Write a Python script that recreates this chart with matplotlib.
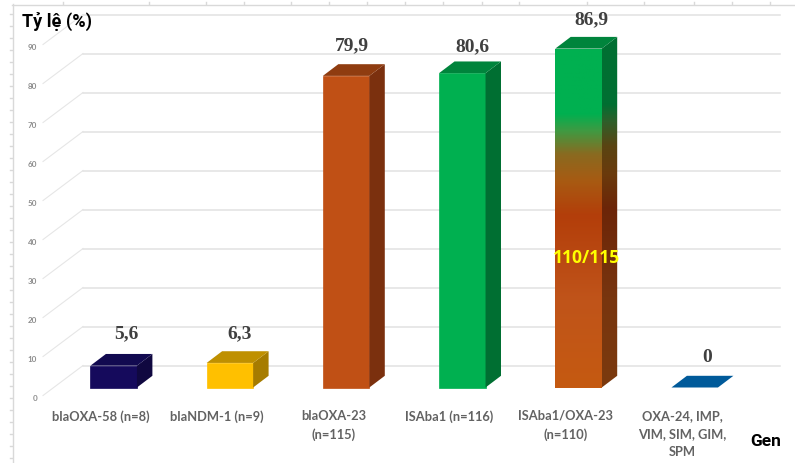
import numpy as np
import matplotlib.pyplot as plt
from matplotlib.colors import LinearSegmentedColormap, to_rgb
from matplotlib.patches import Polygon

# carriage rate of each resistance gene
genes = ["blaOXA-58 (n=8)", "blaNDM-1 (n=9)", "blaOXA-23\n(n=115)", "ISAba1 (n=116)",
         "ISAba1/OXA-23\n(n=110)", "OXA-24, IMP,\nVIM, SIM, GIM,\nSPM"]
rates = [5.6, 6.3, 79.9, 80.6, 86.9, 0]
rate_labels = ["5,6", "6,3", "79,9", "80,6", "86,9", "0"]
y_levels = [0, 10, 20, 30, 40, 50, 60, 70, 80, 90]

# front, top, side
bar_colors = [("#150A5C", "#120A50", "#100840"),
              ("#FFC000", "#BF9000", "#A67C00"),
              ("#C05015", "#8F3C10", "#7B300E"),
              ("#00B050", "#00843C", "#006F32"),
              None,
              ("#005A9A", "#005A9A", "#005A9A")]
# the ISAba1/OXA-23 bar fades from orange up to green
blend_front = [(0, "#C55A11"), (0.26, "#C0541A"), (0.51, "#B33E0A"), (0.61, "#A85A12"),
               (0.69, "#8A6A20"), (0.76, "#3F9A42"), (0.81, "#00B050"), (1, "#00B050")]
blend_side = [(0, "#7B3A0E"), (0.26, "#78350F"), (0.51, "#6C2508"), (0.61, "#6A3A0C"),
              (0.69, "#5A4412"), (0.76, "#2F5F2A"), (0.81, "#006F32"), (1, "#006F32")]

bar_w = 0.4
depth_x = 0.133
depth_y = 3.0
label_nudge = [(13, 33), (10, 30), (6, 31), (10, 27), (13, 30), (12, 31)]

x_limits = (-113.7 / 116.2, (795 - 113.7) / 116.2)
y_limits = ((388.5 - 464) / 3.9, 388.5 / 3.9)

fig = plt.figure(figsize=(7.95, 4.64), dpi=100)
ax = fig.add_axes([0, 0, 1, 1])
ax.set_xlim(x_limits)
ax.set_ylim(y_limits)
ax.axis("off")

# walls of the 3d box
wall_left, wall_back, wall_right = -0.608, -0.264, 5.735
floor_front, floor_back = -2.05, 5.64
for lv in y_levels:
    ax.plot([wall_back, wall_right], [lv + floor_back] * 2, color="#e2e2e2", lw=1.1, zorder=1)
    ax.plot([wall_left, wall_back], [lv + floor_front, lv + floor_back], color="#e6e6e6", lw=0.8, zorder=1)
    ax.text(wall_left - 0.05, lv + floor_front - 0.6, str(lv), ha="right", va="center",
            fontsize=5.8, color="#8c8c8c", fontweight="bold", family="Lato", zorder=3)


def gradient(stops, name):
    return LinearSegmentedColormap.from_list(name, [(p, to_rgb(c)) for p, c in stops])


ramp = np.linspace(1, 0, 256).reshape(-1, 1)
for i, (val, cols) in enumerate(zip(rates, bar_colors)):
    x0, x1 = i - bar_w / 2, i + bar_w / 2
    side = [(x1, 0), (x1 + depth_x, depth_y), (x1 + depth_x, val + depth_y), (x1, val)]
    top = [(x0, val), (x0 + depth_x, val + depth_y), (x1 + depth_x, val + depth_y), (x1, val)]
    if cols is None:
        ax.imshow(ramp, cmap=gradient(blend_front, "front"), aspect="auto", zorder=4,
                  extent=(x0, x1, 0, val))
        im = ax.imshow(ramp, cmap=gradient(blend_side, "side"), aspect="auto", zorder=4,
                       extent=(x1, x1 + depth_x, 0, val + depth_y))
        clip = Polygon(side, transform=ax.transData)
        im.set_clip_path(clip)
        ax.add_patch(Polygon(top, fc="#00843C", ec="none", zorder=4))
        continue
    if val > 0:
        ax.bar(i, val, width=bar_w, color=cols[0], edgecolor=cols[0], lw=0.5, zorder=4)
        ax.add_patch(Polygon(side, fc=cols[2], ec="none", zorder=4))
    ax.add_patch(Polygon(top, fc=cols[1], ec="none", zorder=4))

ax.set_xlim(x_limits)
ax.set_ylim(y_limits)

for i, (val, txt, nudge) in enumerate(zip(rates, rate_labels, label_nudge)):
    ax.annotate(txt, (i, val), xytext=(nudge[0] * 0.72, nudge[1] * 0.72), textcoords="offset points",
                ha="center", va="center", fontsize=14, fontweight="bold",
                family="Liberation Serif", color="#404040", zorder=6)

for i, g in enumerate(genes):
    ax.text(i - 0.11, -5.5, g, ha="center", va="top", fontsize=9.3, fontweight="bold",
            family="Lato", color="#626262", linespacing=1.6, zorder=6)

ax.text(4 + 0.07, 33.4, "110/115", ha="center", va="center", fontsize=12.6, fontweight="bold",
        family="Open Sans", color="#FFFF00", zorder=6)

ax.text(-0.79, 94.2, "Tỷ lệ (%)", ha="left", va="center", fontsize=13, fontweight="bold",
        family="Roboto", color="black", zorder=6)
ax.text(5.48, -13.6, "Gen", ha="left", va="center", fontsize=12.5, fontweight="bold",
        family="Roboto", color="black", zorder=6)

# ruler-like frame along the top and left edges
frame = fig.add_axes([0, 0, 1, 1])
frame.set_xlim(0, 795)
frame.set_ylim(464, 0)
frame.axis("off")
frame.patch.set_alpha(0)
frame.plot([12, 795], [5.5, 5.5], color="#d9d9d9", lw=1)
frame.plot([12.5, 12.5], [5, 464], color="#d9d9d9", lw=1)
for tx in [63, 149, 206, 244, 291, 329, 367, 405, 443, 482, 519, 587, 644, 694, 732, 770]:
    frame.plot([tx, tx], [3, 5], color="#d9d9d9", lw=1)
for ty in range(459, 5, -12):
    frame.plot([10, 12], [ty, ty], color="#d9d9d9", lw=1)

fig.savefig("out.png", dpi=100)
